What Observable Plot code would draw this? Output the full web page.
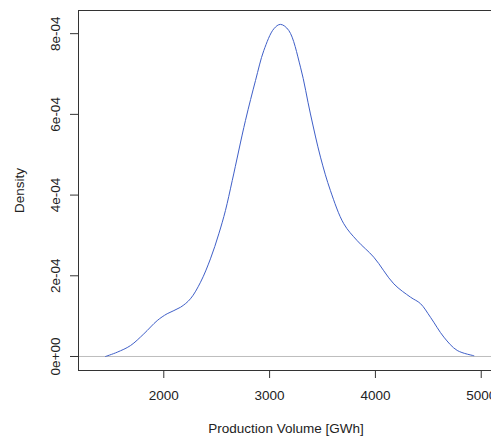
<!DOCTYPE html>
<html>
<head>
<meta charset="utf-8">
<script src="https://cdn.jsdelivr.net/npm/d3@7"></script>
<script src="https://cdn.jsdelivr.net/npm/@observablehq/plot@0.6"></script>
<style>
  html, body { margin: 0; padding: 0; background: #fff; overflow: hidden; }
  #chart { width: 491px; height: 438px; overflow: hidden; }
  #chart svg { max-width: none !important; display: block; }
</style>
</head>
<body>
<div id="chart"></div>
<script>
// Kernel density estimate (x in GWh, density)
const volume = [1449, 1560, 1685, 1811, 1938, 2032, 2158, 2252, 2347, 2441, 2520, 2583, 2647, 2772, 2867, 2945, 3040, 3103, 3181, 3292, 3386, 3481, 3575, 3701, 3828, 3985, 4174, 4332, 4426, 4521, 4647, 4773, 4930];
const density = [0.000e-4, 0.107e-4, 0.27e-4, 0.56e-4, 0.89e-4, 1.06e-4, 1.22e-4, 1.43e-4, 1.84e-4, 2.42e-4, 3.04e-4, 3.62e-4, 4.36e-4, 5.85e-4, 6.84e-4, 7.58e-4, 8.12e-4, 8.23e-4, 8.08e-4, 7.17e-4, 6.01e-4, 4.94e-4, 4.11e-4, 3.29e-4, 2.87e-4, 2.46e-4, 1.80e-4, 1.47e-4, 1.31e-4, 0.97e-4, 0.48e-4, 0.15e-4, 0.02e-4];
const xTicks = [2000, 3000, 4000, 5000];
const xTickLabels = ["2000", "3000", "4000", "5000"];
const yTicks = [0, 2e-4, 4e-4, 6e-4, 8e-4];
const yTickLabels = ["0e+00", "2e-04", "4e-04", "6e-04", "8e-04"];
const xLabel = "Production Volume [GWh]";
const yLabel = "Density";

const data = volume.map((v, i) => ({x: v, y: density[i]}));

const plot = Plot.plot({
  width: 500,
  height: 438,
  marginLeft: 78,
  marginRight: 7,
  marginTop: 10,
  marginBottom: 68,
  style: {fontFamily: "'Liberation Sans', Arial, sans-serif", fontSize: "13.5px", color: "#222", background: "#fff", maxWidth: "none"},
  x: {domain: [1194, 5116]},
  y: {domain: [-0.347e-4, 8.574e-4]},
  marks: [
    Plot.ruleY([0], {stroke: "#bebebe", strokeWidth: 1}),
    Plot.line(data, {x: "x", y: "y", stroke: "#3f5fc8", strokeWidth: 1, curve: "catmull-rom"}),
    Plot.frame({stroke: "#333"}),
    Plot.axisX(xTicks, {tickSize: 8, tickPadding: 12, stroke: "#333", tickFormat: d => xTickLabels[xTicks.indexOf(d)], label: xLabel, labelAnchor: "center", labelArrow: "none", labelOffset: 62, fontSize: "13.5px"}),
    Plot.axisY(yTicks, {tickSize: 8, tickPadding: 11, tickRotate: -90, stroke: "#333", tickFormat: d => yTickLabels[yTicks.indexOf(d)], label: yLabel, labelAnchor: "center", labelArrow: "none", labelOffset: 64, fontSize: "13.5px"})
  ]
});
document.getElementById("chart").appendChild(plot);
</script>
</body>
</html>
